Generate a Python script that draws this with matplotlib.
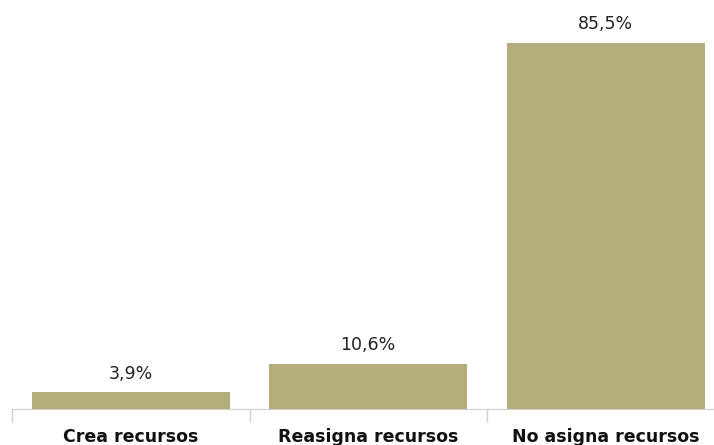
import matplotlib
matplotlib.use("Agg")
import matplotlib.pyplot as plt
import numpy as np

# data
categories = ["Crea recursos", "Reasigna recursos", "No asigna recursos"]
values = [3.9, 10.6, 85.5]
value_labels = ["3,9%", "10,6%", "85,5%"]

bar_color = "#b3ae7c"
plt.rcParams["font.family"] = ["DejaVu Sans"]

fig = plt.figure(figsize=(7.14, 4.45), dpi=100)
# axes run past the right edge, like the clipped original
ax = fig.add_axes([12 / 714, 36 / 445, 712.5 / 714, 409 / 445])

x = np.arange(len(categories))
ax.bar(x, values, width=0.834, color=bar_color)
for xi, v, lab in zip(x, values, value_labels):
    ax.text(xi, v + 2.2, lab, ha="center", va="bottom", fontsize=12.5, color="#222222")

ax.set_xlim(-0.5, len(categories) - 0.5)
ax.set_ylim(0, 95.5)
ax.set_yticks([])
ax.set_xticks(x)
ax.set_xticklabels(categories, fontsize=12.5, fontweight="bold", color="#111111")
ax.tick_params(axis="x", which="major", length=0, pad=14)
ax.set_xticks(np.arange(len(categories) + 1) - 0.5, minor=True)
ax.tick_params(axis="x", which="minor", length=9, color="#d0d0d0", width=1)

for s in ["top", "right", "left"]:
    ax.spines[s].set_visible(False)
ax.spines["bottom"].set_color("#d0d0d0")

fig.savefig("out.png", dpi=100)
